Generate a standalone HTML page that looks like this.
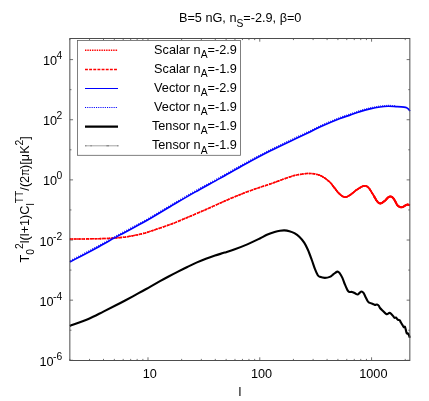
<!DOCTYPE html>
<html><head><meta charset="utf-8"><title>plot</title>
<style>html,body{margin:0;padding:0;background:#fff;overflow:hidden}svg{display:block;will-change:transform}text{font-family:"Liberation Sans",sans-serif;fill:#000}</style>
</head><body>
<svg width="429" height="401" viewBox="0 0 429 401">
<rect x="0" y="0" width="429" height="401" fill="#fff"/>
<path d="M69.85 360.50v-1.60M69.85 38.50v1.60M89.54 360.50v-1.60M89.54 38.50v1.60M103.50 360.50v-1.60M103.50 38.50v1.60M114.34 360.50v-1.60M114.34 38.50v1.60M123.19 360.50v-1.60M123.19 38.50v1.60M130.67 360.50v-1.60M130.67 38.50v1.60M137.15 360.50v-1.60M137.15 38.50v1.60M142.87 360.50v-1.60M142.87 38.50v1.60M147.99 360.50v-3.20M147.99 38.50v3.20M181.64 360.50v-1.60M181.64 38.50v1.60M201.33 360.50v-1.60M201.33 38.50v1.60M215.29 360.50v-1.60M215.29 38.50v1.60M226.13 360.50v-1.60M226.13 38.50v1.60M234.98 360.50v-1.60M234.98 38.50v1.60M242.46 360.50v-1.60M242.46 38.50v1.60M248.95 360.50v-1.60M248.95 38.50v1.60M254.66 360.50v-1.60M254.66 38.50v1.60M259.78 360.50v-3.20M259.78 38.50v3.20M293.43 360.50v-1.60M293.43 38.50v1.60M313.12 360.50v-1.60M313.12 38.50v1.60M327.08 360.50v-1.60M327.08 38.50v1.60M337.92 360.50v-1.60M337.92 38.50v1.60M346.77 360.50v-1.60M346.77 38.50v1.60M354.25 360.50v-1.60M354.25 38.50v1.60M360.74 360.50v-1.60M360.74 38.50v1.60M366.45 360.50v-1.60M366.45 38.50v1.60M371.57 360.50v-3.20M371.57 38.50v3.20M405.22 360.50v-1.60M405.22 38.50v1.60M69.85 360.30h3.20M409.85 360.30h-3.20M69.85 330.23h1.60M409.85 330.23h-1.60M69.85 300.16h3.20M409.85 300.16h-3.20M69.85 270.09h1.60M409.85 270.09h-1.60M69.85 240.02h3.20M409.85 240.02h-3.20M69.85 209.95h1.60M409.85 209.95h-1.60M69.85 179.88h3.20M409.85 179.88h-3.20M69.85 149.81h1.60M409.85 149.81h-1.60M69.85 119.74h3.20M409.85 119.74h-3.20M69.85 89.67h1.60M409.85 89.67h-1.60M69.85 59.60h3.20M409.85 59.60h-3.20" stroke="#4d4d4d" stroke-width="0.8" fill="none"/>
<g fill="none" stroke-linejoin="round">
<path d="M69.85 238.90C72.54 238.90 79.97 238.97 86.00 238.90C92.03 238.83 101.00 238.67 106.00 238.50C111.00 238.33 112.67 238.17 116.00 237.90C119.33 237.63 122.67 237.37 126.00 236.90C129.33 236.43 132.67 235.80 136.00 235.10C139.33 234.40 140.17 234.52 146.00 232.70C151.83 230.88 164.83 226.43 171.00 224.20C177.17 221.97 178.83 221.03 183.00 219.30C187.17 217.57 191.83 215.58 196.00 213.80C200.17 212.02 203.83 210.45 208.00 208.60C212.17 206.75 216.83 204.55 221.00 202.70C225.17 200.85 228.83 199.23 233.00 197.50C237.17 195.77 241.83 193.88 246.00 192.30C250.17 190.72 253.83 189.43 258.00 188.00C262.17 186.57 265.33 185.67 271.00 183.70C276.67 181.73 286.77 177.80 292.00 176.20C297.23 174.60 299.62 174.57 302.40 174.10C305.18 173.63 306.25 173.35 308.70 173.40C311.15 173.45 314.65 173.77 317.10 174.40C319.55 175.03 321.30 175.93 323.40 177.20C325.50 178.47 327.85 180.22 329.70 182.00C331.55 183.78 332.95 186.00 334.50 187.90C336.05 189.80 337.32 191.87 339.00 193.40C340.68 194.93 342.73 196.85 344.60 197.10C346.47 197.35 348.15 196.13 350.20 194.90C352.25 193.67 354.65 191.18 356.90 189.70C359.15 188.22 361.82 186.38 363.70 186.00C365.58 185.62 366.72 186.10 368.20 187.40C369.68 188.70 371.12 191.50 372.60 193.80C374.08 196.10 375.78 199.60 377.10 201.20C378.42 202.80 379.18 203.50 380.50 203.40C381.82 203.30 383.78 201.55 385.00 200.60C386.22 199.65 386.92 198.38 387.80 197.70C388.68 197.02 389.50 196.53 390.30 196.50C391.10 196.47 391.88 196.88 392.60 197.50C393.32 198.12 393.82 198.95 394.60 200.20C395.38 201.45 396.48 203.90 397.30 205.00C398.12 206.10 398.83 206.42 399.50 206.80C400.17 207.18 400.68 207.30 401.30 207.30C401.92 207.30 402.52 207.12 403.20 206.80C403.88 206.48 404.67 205.77 405.40 205.40C406.13 205.03 406.86 204.62 407.60 204.60C408.34 204.58 409.48 205.18 409.85 205.30" stroke="#f00" stroke-width="1.55" stroke-dasharray="1.35 0.95"/>
<path d="M69.85 238.90C72.54 238.90 79.97 238.97 86.00 238.90C92.03 238.83 101.00 238.67 106.00 238.50C111.00 238.33 112.67 238.17 116.00 237.90C119.33 237.63 122.67 237.37 126.00 236.90C129.33 236.43 132.67 235.80 136.00 235.10C139.33 234.40 140.17 234.52 146.00 232.70C151.83 230.88 164.83 226.43 171.00 224.20C177.17 221.97 178.83 221.03 183.00 219.30C187.17 217.57 191.83 215.58 196.00 213.80C200.17 212.02 203.83 210.45 208.00 208.60C212.17 206.75 216.83 204.55 221.00 202.70C225.17 200.85 228.83 199.23 233.00 197.50C237.17 195.77 241.83 193.88 246.00 192.30C250.17 190.72 253.83 189.43 258.00 188.00C262.17 186.57 265.33 185.67 271.00 183.70C276.67 181.73 286.77 177.80 292.00 176.20C297.23 174.60 299.62 174.57 302.40 174.10C305.18 173.63 306.25 173.35 308.70 173.40C311.15 173.45 314.65 173.77 317.10 174.40C319.55 175.03 321.30 175.93 323.40 177.20C325.50 178.47 327.85 180.22 329.70 182.00C331.55 183.78 332.95 186.00 334.50 187.90C336.05 189.80 337.32 191.87 339.00 193.40C340.68 194.93 342.73 196.85 344.60 197.10C346.47 197.35 348.15 196.13 350.20 194.90C352.25 193.67 354.65 191.18 356.90 189.70C359.15 188.22 361.82 186.38 363.70 186.00C365.58 185.62 366.72 186.10 368.20 187.40C369.68 188.70 371.12 191.50 372.60 193.80C374.08 196.10 375.78 199.60 377.10 201.20C378.42 202.80 379.18 203.50 380.50 203.40C381.82 203.30 383.78 201.55 385.00 200.60C386.22 199.65 386.92 198.38 387.80 197.70C388.68 197.02 389.50 196.53 390.30 196.50C391.10 196.47 391.88 196.88 392.60 197.50C393.32 198.12 393.82 198.95 394.60 200.20C395.38 201.45 396.48 203.90 397.30 205.00C398.12 206.10 398.83 206.42 399.50 206.80C400.17 207.18 400.68 207.30 401.30 207.30C401.92 207.30 402.52 207.12 403.20 206.80C403.88 206.48 404.67 205.77 405.40 205.40C406.13 205.03 406.86 204.62 407.60 204.60C408.34 204.58 409.48 205.18 409.85 205.30" stroke="#f00" stroke-width="1.55" stroke-dasharray="2.9 1.2"/>
<path d="M318.27 174.74L318.82 174.93L319.36 175.13L319.87 175.34L320.38 175.56L320.88 175.80L321.38 176.05L321.87 176.32L322.37 176.60L322.88 176.89L323.40 177.20L323.93 177.53L324.47 177.87L325.01 178.23L325.56 178.61L326.10 179.00L326.64 179.41L327.18 179.82L327.71 180.24L328.23 180.68L328.74 181.11L329.23 181.56L329.70 182.00L330.15 182.45L330.59 182.92L331.01 183.41L331.42 183.90L331.82 184.40L332.21 184.91L332.60 185.41L332.98 185.92L333.36 186.43L333.73 186.93L334.12 187.42L334.50 187.90L334.88 188.38L335.25 188.86L335.62 189.35L335.98 189.83L336.34 190.31L336.70 190.79L337.06 191.26L337.43 191.71L337.80 192.16L338.19 192.59L338.59 193.01L339.00 193.40L339.43 193.79L339.87 194.19L340.32 194.59L340.79 194.99L341.26 195.37L341.73 195.73L342.21 196.07L342.69 196.37L343.17 196.63L343.65 196.85L344.13 197.00L344.60 197.10L345.06 197.13L345.52 197.11L345.97 197.04L346.43 196.91L346.88 196.75L347.33 196.56L347.79 196.33L348.25 196.07L348.72 195.80L349.20 195.51L349.69 195.21L350.20 194.90L350.72 194.57L351.25 194.19L351.80 193.78L352.35 193.33L352.91 192.87L353.47 192.39L354.05 191.91L354.62 191.43L355.19 190.96L355.76 190.51L356.33 190.09L356.90 189.70L357.47 189.32L358.05 188.94L358.65 188.55L359.24 188.17L359.84 187.79L360.44 187.44L361.02 187.10L361.60 186.80L362.16 186.53L362.70 186.30L363.21 186.12L363.70 186.00L364.16 185.92L364.58 185.88L364.99 185.87L365.37 185.90L365.74 185.97L366.10 186.07L366.45 186.20L366.79 186.37L367.14 186.58L367.48 186.82L367.84 187.09L368.20 187.40L368.57 187.76L368.94 188.17L369.30 188.62L369.67 189.13L370.04 189.66L370.40 190.22L370.76 190.81L371.13 191.41L371.50 192.01L371.86 192.62L372.23 193.22L372.60 193.80L372.97 194.40L373.36 195.04L373.74 195.70L374.13 196.39L374.52 197.08L374.91 197.76L375.30 198.43L375.68 199.08L376.05 199.69L376.41 200.26L376.76 200.76L377.10 201.20L377.42 201.58L377.72 201.93L378.00 202.23L378.27 202.50L378.54 202.74L378.80 202.94L379.06 203.10L379.33 203.23L379.60 203.32L379.88 203.38L380.18 203.41L380.50 203.40L380.84 203.34L381.21 203.22L381.59 203.05L381.98 202.84L382.38 202.59L382.79 202.32L383.19 202.03L383.59 201.73L383.97 201.42L384.34 201.13L384.68 200.85L385.00 200.60L385.29 200.36L385.57 200.10L385.83 199.84L386.07 199.58L386.30 199.31L386.53 199.05L386.74 198.79L386.95 198.54L387.16 198.31L387.37 198.09L387.58 197.88L387.80 197.70L388.02 197.53L388.24 197.38L388.45 197.23L388.66 197.09L388.87 196.97L389.08 196.86L389.29 196.76L389.49 196.67L389.70 196.61L389.90 196.55L390.10 196.52L390.30 196.50L390.50 196.50L390.70 196.52L390.90 196.56L391.09 196.61L391.29 196.67L391.48 196.76L391.67 196.85L391.86 196.96L392.05 197.08L392.24 197.21L392.42 197.35L392.60 197.50L392.77 197.66L392.94 197.83L393.10 198.01L393.26 198.20L393.42 198.40L393.58 198.61L393.73 198.84L393.89 199.08L394.06 199.34L394.23 199.61L394.41 199.90L394.60 200.20L394.80 200.54L395.02 200.91L395.24 201.32L395.47 201.76L395.70 202.20L395.94 202.66L396.18 203.11L396.41 203.54L396.64 203.96L396.87 204.35L397.09 204.70L397.30 205.00L397.50 205.26L397.70 205.49L397.89 205.69L398.09 205.87L398.27 206.03L398.46 206.17L398.64 206.29L398.81 206.41L398.99 206.51L399.16 206.61L399.33 206.71L399.50 206.80L399.66 206.89L399.82 206.97L399.98 207.04L400.13 207.10L400.27 207.15L400.42 207.19L400.56 207.23L400.71 207.26L400.85 207.28L401.00 207.29L401.15 207.30L401.30 207.30L401.45 207.30L401.61 207.28L401.76 207.27L401.91 207.24L402.07 207.21L402.22 207.17L402.38 207.12L402.54 207.07L402.70 207.01L402.86 206.95L403.03 206.88L403.20 206.80L403.37 206.71L403.55 206.61L403.73 206.50L403.91 206.38L404.10 206.25L404.28 206.12L404.47 205.99L404.66 205.86L404.84 205.73L405.03 205.61L405.22 205.50L405.40 205.40L405.58 205.31L405.77 205.21L405.95 205.12L406.13 205.03L406.31 204.95L406.50 204.87L406.68 204.80L406.86 204.73L407.05 204.68L407.23 204.64L407.41 204.61L407.60 204.60L407.79 204.61L408.00 204.64L408.21 204.69L408.43 204.75L408.65 204.82L408.86 204.90L409.07 204.98L409.26 205.06L409.44 205.14L409.60 205.21L409.74 205.26L409.85 205.30" stroke="#f00" stroke-width="1.2"/>
<path d="M332.21 184.91L332.60 185.41L332.98 185.92L333.36 186.43L333.73 186.93L334.12 187.42L334.50 187.90L334.88 188.38L335.25 188.86L335.62 189.35L335.98 189.83L336.34 190.31L336.70 190.79L337.06 191.26L337.43 191.71L337.80 192.16L338.19 192.59L338.59 193.01L339.00 193.40L339.43 193.79L339.87 194.19L340.32 194.59L340.79 194.99L341.26 195.37L341.73 195.73L342.21 196.07L342.69 196.37L343.17 196.63L343.65 196.85L344.13 197.00L344.60 197.10L345.06 197.13L345.52 197.11L345.97 197.04L346.43 196.91L346.88 196.75L347.33 196.56L347.79 196.33L348.25 196.07L348.72 195.80L349.20 195.51L349.69 195.21L350.20 194.90L350.72 194.57L351.25 194.19L351.80 193.78L352.35 193.33L352.91 192.87L353.47 192.39L354.05 191.91L354.62 191.43L355.19 190.96L355.76 190.51L356.33 190.09L356.90 189.70L357.47 189.32L358.05 188.94L358.65 188.55L359.24 188.17L359.84 187.79L360.44 187.44L361.02 187.10L361.60 186.80L362.16 186.53L362.70 186.30L363.21 186.12L363.70 186.00L364.16 185.92L364.58 185.88L364.99 185.87L365.37 185.90L365.74 185.97L366.10 186.07L366.45 186.20L366.79 186.37L367.14 186.58L367.48 186.82L367.84 187.09L368.20 187.40L368.57 187.76L368.94 188.17L369.30 188.62L369.67 189.13L370.04 189.66L370.40 190.22L370.76 190.81L371.13 191.41L371.50 192.01L371.86 192.62L372.23 193.22L372.60 193.80L372.97 194.40L373.36 195.04L373.74 195.70L374.13 196.39L374.52 197.08L374.91 197.76L375.30 198.43L375.68 199.08L376.05 199.69L376.41 200.26L376.76 200.76L377.10 201.20L377.42 201.58L377.72 201.93L378.00 202.23L378.27 202.50L378.54 202.74L378.80 202.94L379.06 203.10L379.33 203.23L379.60 203.32L379.88 203.38L380.18 203.41L380.50 203.40L380.84 203.34L381.21 203.22L381.59 203.05L381.98 202.84L382.38 202.59L382.79 202.32L383.19 202.03L383.59 201.73L383.97 201.42L384.34 201.13L384.68 200.85L385.00 200.60L385.29 200.36L385.57 200.10L385.83 199.84L386.07 199.58L386.30 199.31L386.53 199.05L386.74 198.79L386.95 198.54L387.16 198.31L387.37 198.09L387.58 197.88L387.80 197.70L388.02 197.53L388.24 197.38L388.45 197.23L388.66 197.09L388.87 196.97L389.08 196.86L389.29 196.76L389.49 196.67L389.70 196.61L389.90 196.55L390.10 196.52L390.30 196.50L390.50 196.50L390.70 196.52L390.90 196.56L391.09 196.61L391.29 196.67L391.48 196.76L391.67 196.85L391.86 196.96L392.05 197.08L392.24 197.21L392.42 197.35L392.60 197.50L392.77 197.66L392.94 197.83L393.10 198.01L393.26 198.20L393.42 198.40L393.58 198.61L393.73 198.84L393.89 199.08L394.06 199.34L394.23 199.61L394.41 199.90L394.60 200.20L394.80 200.54L395.02 200.91L395.24 201.32L395.47 201.76L395.70 202.20L395.94 202.66L396.18 203.11L396.41 203.54L396.64 203.96L396.87 204.35L397.09 204.70L397.30 205.00L397.50 205.26L397.70 205.49L397.89 205.69L398.09 205.87L398.27 206.03L398.46 206.17L398.64 206.29L398.81 206.41L398.99 206.51L399.16 206.61L399.33 206.71L399.50 206.80L399.66 206.89L399.82 206.97L399.98 207.04L400.13 207.10L400.27 207.15L400.42 207.19L400.56 207.23L400.71 207.26L400.85 207.28L401.00 207.29L401.15 207.30L401.30 207.30L401.45 207.30L401.61 207.28L401.76 207.27L401.91 207.24L402.07 207.21L402.22 207.17L402.38 207.12L402.54 207.07L402.70 207.01L402.86 206.95L403.03 206.88L403.20 206.80L403.37 206.71L403.55 206.61L403.73 206.50L403.91 206.38L404.10 206.25L404.28 206.12L404.47 205.99L404.66 205.86L404.84 205.73L405.03 205.61L405.22 205.50L405.40 205.40L405.58 205.31L405.77 205.21L405.95 205.12L406.13 205.03L406.31 204.95L406.50 204.87L406.68 204.80L406.86 204.73L407.05 204.68L407.23 204.64L407.41 204.61L407.60 204.60L407.79 204.61L408.00 204.64L408.21 204.69L408.43 204.75L408.65 204.82L408.86 204.90L409.07 204.98L409.26 205.06L409.44 205.14L409.60 205.21L409.74 205.26L409.85 205.30" stroke="#f00" stroke-width="1.7"/>
<path d="M374.13 196.39L374.52 197.08L374.91 197.76L375.30 198.43L375.68 199.08L376.05 199.69L376.41 200.26L376.76 200.76L377.10 201.20L377.42 201.58L377.72 201.93L378.00 202.23L378.27 202.50L378.54 202.74L378.80 202.94L379.06 203.10L379.33 203.23L379.60 203.32L379.88 203.38L380.18 203.41L380.50 203.40L380.84 203.34L381.21 203.22L381.59 203.05L381.98 202.84L382.38 202.59L382.79 202.32L383.19 202.03L383.59 201.73L383.97 201.42L384.34 201.13L384.68 200.85L385.00 200.60L385.29 200.36L385.57 200.10L385.83 199.84L386.07 199.58L386.30 199.31L386.53 199.05L386.74 198.79L386.95 198.54L387.16 198.31L387.37 198.09L387.58 197.88L387.80 197.70L388.02 197.53L388.24 197.38L388.45 197.23L388.66 197.09L388.87 196.97L389.08 196.86L389.29 196.76L389.49 196.67L389.70 196.61L389.90 196.55L390.10 196.52L390.30 196.50L390.50 196.50L390.70 196.52L390.90 196.56L391.09 196.61L391.29 196.67L391.48 196.76L391.67 196.85L391.86 196.96L392.05 197.08L392.24 197.21L392.42 197.35L392.60 197.50L392.77 197.66L392.94 197.83L393.10 198.01L393.26 198.20L393.42 198.40L393.58 198.61L393.73 198.84L393.89 199.08L394.06 199.34L394.23 199.61L394.41 199.90L394.60 200.20L394.80 200.54L395.02 200.91L395.24 201.32L395.47 201.76L395.70 202.20L395.94 202.66L396.18 203.11L396.41 203.54L396.64 203.96L396.87 204.35L397.09 204.70L397.30 205.00L397.50 205.26L397.70 205.49L397.89 205.69L398.09 205.87L398.27 206.03L398.46 206.17L398.64 206.29L398.81 206.41L398.99 206.51L399.16 206.61L399.33 206.71L399.50 206.80L399.66 206.89L399.82 206.97L399.98 207.04L400.13 207.10L400.27 207.15L400.42 207.19L400.56 207.23L400.71 207.26L400.85 207.28L401.00 207.29L401.15 207.30L401.30 207.30L401.45 207.30L401.61 207.28L401.76 207.27L401.91 207.24L402.07 207.21L402.22 207.17L402.38 207.12L402.54 207.07L402.70 207.01L402.86 206.95L403.03 206.88L403.20 206.80L403.37 206.71L403.55 206.61L403.73 206.50L403.91 206.38L404.10 206.25L404.28 206.12L404.47 205.99L404.66 205.86L404.84 205.73L405.03 205.61L405.22 205.50L405.40 205.40L405.58 205.31L405.77 205.21L405.95 205.12L406.13 205.03L406.31 204.95L406.50 204.87L406.68 204.80L406.86 204.73L407.05 204.68L407.23 204.64L407.41 204.61L407.60 204.60L407.79 204.61L408.00 204.64L408.21 204.69L408.43 204.75L408.65 204.82L408.86 204.90L409.07 204.98L409.26 205.06L409.44 205.14L409.60 205.21L409.74 205.26L409.85 205.30" stroke="#f00" stroke-width="2.1"/>
<path d="M69.85 262.00C74.21 259.70 87.64 252.72 96.00 248.20C104.36 243.68 111.83 239.34 120.00 234.90C128.17 230.46 136.67 226.24 145.00 221.55C153.33 216.86 161.67 211.65 170.00 206.75C178.33 201.85 186.67 196.88 195.00 192.15C203.33 187.42 211.67 183.00 220.00 178.35C228.33 173.70 236.67 168.80 245.00 164.25C253.33 159.70 261.50 155.34 270.00 151.05C278.50 146.76 289.33 141.69 296.00 138.50C302.67 135.31 305.83 133.90 310.00 131.90C314.17 129.90 316.00 128.73 321.00 126.50C326.00 124.27 335.17 120.40 340.00 118.50C344.83 116.60 346.67 116.25 350.00 115.10C353.33 113.95 356.67 112.63 360.00 111.60C363.33 110.57 366.67 109.67 370.00 108.90C373.33 108.13 377.00 107.43 380.00 107.00C383.00 106.57 385.33 106.37 388.00 106.30C390.67 106.23 393.33 106.47 396.00 106.60C398.67 106.73 402.17 106.87 404.00 107.10C405.83 107.33 406.20 107.62 407.00 108.00C407.80 108.38 408.32 108.87 408.80 109.40C409.28 109.93 409.72 110.90 409.90 111.20" stroke="#00f" stroke-width="1.65"/>
<path d="M70.60 261.61L71.60 261.08M72.60 260.56L73.60 260.03M74.60 259.51L75.60 258.98M76.60 258.46L77.60 257.94M78.60 257.41L79.60 256.89M80.60 256.36L81.60 255.84M82.60 255.31L83.60 254.79M84.60 254.26L85.60 253.73M86.60 253.21L87.60 252.68M88.60 252.15L89.60 251.62M90.60 251.09L91.60 250.56M92.60 250.02L93.60 249.49M94.60 248.95L95.60 248.42M96.60 247.87L97.60 247.33M98.60 246.79L99.60 246.24M100.60 245.69L101.60 245.13M102.60 244.58L103.60 244.02M104.60 243.46L105.60 242.91M106.60 242.35L107.60 241.79M108.60 241.23L109.60 240.67M110.60 240.11L111.60 239.55M112.60 238.99L113.60 238.43M114.60 237.87L115.60 237.32M116.60 236.76L117.60 236.21M118.60 235.66L119.60 235.12M120.60 234.58L121.60 234.04M122.60 233.50L123.60 232.97M124.60 232.43L125.60 231.91M126.60 231.38L127.60 230.85M128.60 230.33L129.60 229.80M130.60 229.28L131.60 228.76M132.60 228.23L133.60 227.71M134.60 227.18L135.60 226.65M136.60 226.12L137.60 225.59M138.60 225.06L139.60 224.52M140.60 223.98L141.60 223.43M142.60 222.89L143.60 222.33M144.60 221.77L145.60 221.21M146.60 220.64L147.60 220.07M148.60 219.49L149.60 218.91M150.60 218.33L151.60 217.74M152.60 217.15L153.60 216.56M154.60 215.96L155.60 215.37M156.60 214.77L157.60 214.17M158.60 213.57L159.60 212.97M160.60 212.36L161.60 211.76M162.60 211.16L163.60 210.56M164.60 209.96L165.60 209.36M166.60 208.76L167.60 208.17M168.60 207.58L169.60 206.99M170.60 206.40L171.60 205.81M172.60 205.22L173.60 204.63M174.60 204.04L175.60 203.45M176.60 202.86L177.60 202.27M178.60 201.68L179.60 201.09M180.60 200.50L181.60 199.92M182.60 199.33L183.60 198.74M184.60 198.16L185.60 197.57M186.60 196.99L187.60 196.41M188.60 195.83L189.60 195.25M190.60 194.67L191.60 194.09M192.60 193.52L193.60 192.95M194.60 192.38L195.60 191.81M196.60 191.25L197.60 190.68M198.60 190.12L199.60 189.57M200.60 189.01L201.60 188.46M202.60 187.91L203.60 187.36M204.60 186.81L205.60 186.26M206.60 185.71L207.60 185.16M208.60 184.62L209.60 184.07M210.60 183.53L211.60 182.98M212.60 182.43L213.60 181.88M214.60 181.34L215.60 180.79M216.60 180.24L217.60 179.68M218.60 179.13L219.60 178.57M220.60 178.01L221.60 177.45M222.60 176.89L223.60 176.33M224.60 175.76L225.60 175.19M226.60 174.63L227.60 174.06M228.60 173.49L229.60 172.92M230.60 172.35L231.60 171.78M232.60 171.21L233.60 170.64M234.60 170.07L235.60 169.50M236.60 168.93L237.60 168.37M238.60 167.80L239.60 167.24M240.60 166.68L241.60 166.12M242.60 165.57L243.60 165.02M244.60 164.47L245.60 163.92M246.60 163.38L247.60 162.83M248.60 162.29L249.60 161.75M250.60 161.21L251.60 160.67M252.60 160.13L253.60 159.60M254.60 159.06L255.60 158.53M256.60 158.00L257.60 157.47M258.60 156.94L259.60 156.41M260.60 155.89L261.60 155.36M262.60 154.84L263.60 154.32M264.60 153.81L265.60 153.29M266.60 152.78L267.60 152.27M268.60 151.76L269.60 151.25M270.60 150.75L271.60 150.25M272.60 149.75L273.60 149.25M274.60 148.76L275.60 148.27M276.60 147.78L277.60 147.30M278.60 146.81L279.60 146.33M280.60 145.84L281.60 145.36M282.60 144.88L283.60 144.40M284.60 143.93L285.60 143.45M286.60 142.97L287.60 142.50M288.60 142.02L289.60 141.55M290.60 141.07L291.60 140.60M292.60 140.12L293.60 139.65M294.60 139.17L295.60 138.69M296.60 138.21L297.60 137.74M298.60 137.26L299.60 136.79M300.60 136.32L301.60 135.85M302.60 135.38L303.60 134.91M304.60 134.44L305.60 133.98M306.60 133.51L307.60 133.04M308.60 132.57L309.60 132.09M310.60 131.61L311.60 131.12M312.60 130.61L313.60 130.10M314.60 129.59L315.60 129.08M316.60 128.57L317.60 128.08M318.60 127.60L319.60 127.14M320.60 126.68L321.60 126.23M322.60 125.79L323.60 125.35M324.60 124.92L325.60 124.49M326.60 124.06L327.60 123.63M328.60 123.21L329.60 122.78M330.60 122.36L331.60 121.94M332.60 121.52L333.60 121.10M334.60 120.69L335.60 120.28M336.60 119.87L337.60 119.46M338.60 119.06L339.60 118.66M340.60 118.27L341.60 117.89M342.60 117.52L343.60 117.17M344.60 116.83L345.60 116.51M346.60 116.19L347.60 115.88M348.60 115.57L349.60 115.24M350.60 114.89L351.60 114.54M352.60 114.18L353.60 113.81M354.60 113.45L355.60 113.09M356.60 112.73L357.60 112.39M358.60 112.05L359.60 111.73M360.60 111.42L361.60 111.11M362.60 110.82L363.60 110.54M364.60 110.26L365.60 109.99M366.60 109.73L367.60 109.48M368.60 109.23L369.60 108.99M370.60 108.76L371.60 108.54M372.60 108.33L373.60 108.12M374.60 107.93L375.60 107.74M376.60 107.55L377.60 107.38M378.60 107.21L379.60 107.06M380.60 106.92L381.60 106.78M382.60 106.66L383.60 106.56M384.60 106.47L385.60 106.40M386.60 106.35L387.60 106.31M388.60 106.29L389.60 106.29M390.60 106.32L391.60 106.36M392.60 106.41L393.60 106.46M394.60 106.52L395.60 106.58" stroke="#00f" stroke-width="1.15" stroke-opacity="0.85" transform="translate(-0.45,-0.9)"/>
<path d="M69.85 325.90C72.94 324.75 82.81 321.38 88.40 319.00C93.99 316.62 98.82 313.88 103.40 311.60C107.98 309.32 112.20 307.20 115.90 305.30C119.60 303.40 121.82 302.22 125.60 300.20C129.38 298.18 134.53 295.43 138.60 293.20C142.67 290.97 146.43 288.80 150.00 286.80C153.57 284.80 156.90 282.92 160.00 281.20C163.10 279.48 165.60 278.10 168.60 276.50C171.60 274.90 174.88 273.18 178.00 271.60C181.12 270.02 184.13 268.53 187.30 267.00C190.47 265.47 193.90 263.78 197.00 262.40C200.10 261.02 202.90 259.85 205.90 258.70C208.90 257.55 211.88 256.52 215.00 255.50C218.12 254.48 221.30 253.63 224.60 252.60C227.90 251.57 231.02 250.67 234.80 249.30C238.58 247.93 243.13 246.20 247.30 244.40C251.47 242.60 256.53 240.10 259.80 238.50C263.07 236.90 264.43 235.87 266.90 234.80C269.37 233.73 272.42 232.77 274.60 232.10C276.78 231.43 278.37 231.08 280.00 230.80C281.63 230.52 282.83 230.33 284.40 230.40C285.97 230.47 287.73 230.73 289.40 231.20C291.07 231.67 292.75 232.28 294.40 233.20C296.05 234.12 297.67 235.13 299.30 236.70C300.93 238.27 302.75 240.38 304.20 242.60C305.65 244.82 306.73 247.10 308.00 250.00C309.27 252.90 310.63 256.80 311.80 260.00C312.97 263.20 314.00 266.65 315.00 269.20C316.00 271.75 317.00 274.03 317.80 275.30C318.60 276.57 318.63 276.37 319.80 276.80C320.97 277.23 323.13 277.88 324.80 277.90C326.47 277.92 328.35 277.52 329.80 276.90C331.25 276.28 332.25 275.08 333.50 274.20C334.75 273.32 336.25 271.75 337.30 271.60C338.35 271.45 338.95 272.25 339.80 273.30C340.65 274.35 341.53 276.00 342.40 277.90C343.27 279.80 344.13 282.62 345.00 284.70C345.87 286.78 346.88 289.18 347.60 290.40C348.32 291.62 348.57 291.75 349.30 292.00C350.03 292.25 351.05 291.68 352.00 291.90C352.95 292.12 354.07 292.87 355.00 293.30C355.93 293.73 356.83 294.57 357.60 294.50C358.37 294.43 358.95 293.40 359.60 292.90C360.25 292.40 360.85 291.50 361.50 291.50C362.15 291.50 362.83 292.00 363.50 292.90C364.17 293.80 364.77 295.47 365.50 296.90C366.23 298.33 367.17 300.50 367.90 301.50C368.63 302.50 369.07 302.50 369.90 302.90C370.73 303.30 372.07 303.57 372.90 303.90C373.73 304.23 374.23 304.80 374.90 304.90C375.57 305.00 376.23 304.33 376.90 304.50C377.57 304.67 378.38 305.32 378.90 305.90C379.42 306.48 379.32 307.15 380.00 308.00C380.68 308.85 382.00 310.03 383.00 311.00C384.00 311.97 385.25 313.28 386.00 313.80C386.75 314.32 386.92 314.27 387.50 314.10C388.08 313.93 388.83 312.77 389.50 312.80C390.17 312.83 390.83 313.68 391.50 314.30C392.17 314.92 392.98 315.90 393.50 316.50C394.02 317.10 394.18 317.73 394.60 317.90C395.02 318.07 395.58 317.32 396.00 317.50C396.42 317.68 396.70 318.58 397.10 319.00C397.50 319.42 397.97 319.80 398.40 320.00C398.83 320.20 399.28 319.78 399.70 320.20C400.12 320.62 400.45 321.72 400.90 322.50C401.35 323.28 401.93 324.12 402.40 324.90C402.87 325.68 403.28 326.90 403.70 327.20C404.12 327.50 404.57 326.33 404.90 326.70C405.23 327.07 405.40 328.30 405.70 329.40C406.00 330.50 406.33 332.63 406.70 333.30C407.07 333.97 407.53 333.12 407.90 333.40C408.27 333.68 408.58 334.27 408.90 335.00C409.22 335.73 409.65 337.33 409.80 337.80" stroke="#000" stroke-width="2.1"/>
</g>
<rect x="69.85" y="38.50" width="340.00" height="322.00" fill="none" stroke="#4d4d4d" stroke-width="1.0"/>
<rect x="77.50" y="40.50" width="162.90" height="114.80" fill="#fff" stroke="#606060" stroke-width="0.8"/>
<g fill="none">
<path d="M85.00 50.30H118.00" stroke="#f00" stroke-width="1.5" stroke-dasharray="1.4 0.95"/>
<path d="M85.00 69.38H118.00" stroke="#f00" stroke-width="1.5" stroke-dasharray="2.9 1.25"/>
<path d="M85.00 88.46H118.00" stroke="#00f" stroke-width="1.15"/>
<path d="M85.00 107.54H118.00" stroke="#00f" stroke-width="1.15" stroke-dasharray="1.1 1.1"/>
<path d="M85.00 126.62H118.00" stroke="#000" stroke-width="2.1"/>
<path d="M85.00 145.80H118.50" stroke="#a4a4a4" stroke-width="1"/>
<path d="M85.2 145.80h1.2M90.4 145.80h1.4M106.4 145.80h2.6M117.2 145.80h1.2" stroke="#777" stroke-width="1"/>
</g>
<text x="236.8" y="53.50" font-size="12.70" text-anchor="end">Scalar n<tspan font-size="10.30" dy="4.6">A</tspan><tspan dy="-4.6">=-2.9</tspan></text>
<text x="236.8" y="72.58" font-size="12.70" text-anchor="end">Scalar n<tspan font-size="10.30" dy="4.6">A</tspan><tspan dy="-4.6">=-1.9</tspan></text>
<text x="236.8" y="91.66" font-size="12.70" text-anchor="end">Vector n<tspan font-size="10.30" dy="4.6">A</tspan><tspan dy="-4.6">=-2.9</tspan></text>
<text x="236.8" y="110.74" font-size="12.70" text-anchor="end">Vector n<tspan font-size="10.30" dy="4.6">A</tspan><tspan dy="-4.6">=-1.9</tspan></text>
<text x="236.8" y="129.82" font-size="12.70" text-anchor="end">Tensor n<tspan font-size="10.30" dy="4.6">A</tspan><tspan dy="-4.6">=-1.9</tspan></text>
<text x="236.8" y="148.90" font-size="12.70" text-anchor="end">Tensor n<tspan font-size="10.30" dy="4.6">A</tspan><tspan dy="-4.6">=-1.9</tspan></text>
<text id="title" x="240.2" y="22" font-size="12.70" text-anchor="middle">B=5 nG, n<tspan font-size="10.30" dy="4.6">S</tspan><tspan dy="-4.6">=-2.9, β=0</tspan></text>
<text x="149.79" y="377.5" font-size="12.70" text-anchor="middle">10</text>
<text x="261.58" y="377.5" font-size="12.70" text-anchor="middle">100</text>
<text x="373.37" y="377.5" font-size="12.70" text-anchor="middle">1000</text>
<text x="239.9" y="396.2" font-size="12.70" text-anchor="middle">l</text>
<text x="62.2" y="64.60" font-size="12.70" text-anchor="end">10<tspan font-size="10.30" dy="-6.1" dx="-0.6">4</tspan></text>
<text x="62.2" y="124.94" font-size="12.70" text-anchor="end">10<tspan font-size="10.30" dy="-6.1" dx="-0.6">2</tspan></text>
<text x="62.2" y="185.28" font-size="12.70" text-anchor="end">10<tspan font-size="10.30" dy="-6.1" dx="-0.6">0</tspan></text>
<text x="62.2" y="245.62" font-size="12.70" text-anchor="end">10<tspan font-size="10.30" dy="-6.1" dx="-0.6">-2</tspan></text>
<text x="62.2" y="305.96" font-size="12.70" text-anchor="end">10<tspan font-size="10.30" dy="-6.1" dx="-0.6">-4</tspan></text>
<text x="62.2" y="366.30" font-size="12.70" text-anchor="end">10<tspan font-size="10.30" dy="-6.1" dx="-0.6">-6</tspan></text>
<text id="ytitle" transform="translate(29.1,199.3) rotate(-90)" font-size="12.70" text-anchor="middle">T<tspan font-size="10.30" dy="4.6">0</tspan><tspan font-size="10.30" dy="-10.7">2</tspan><tspan dy="6.1">l(l+1)C</tspan><tspan font-size="10.30" dy="4.6">l</tspan><tspan font-size="10.30" dy="-10.7">TT</tspan><tspan dy="6.1">/(2</tspan><tspan textLength="6.9" lengthAdjust="spacingAndGlyphs">π</tspan><tspan>)[μK</tspan><tspan font-size="10.30" dy="-6.1">2</tspan><tspan dy="6.1">]</tspan></text>
</svg>
</body></html>
